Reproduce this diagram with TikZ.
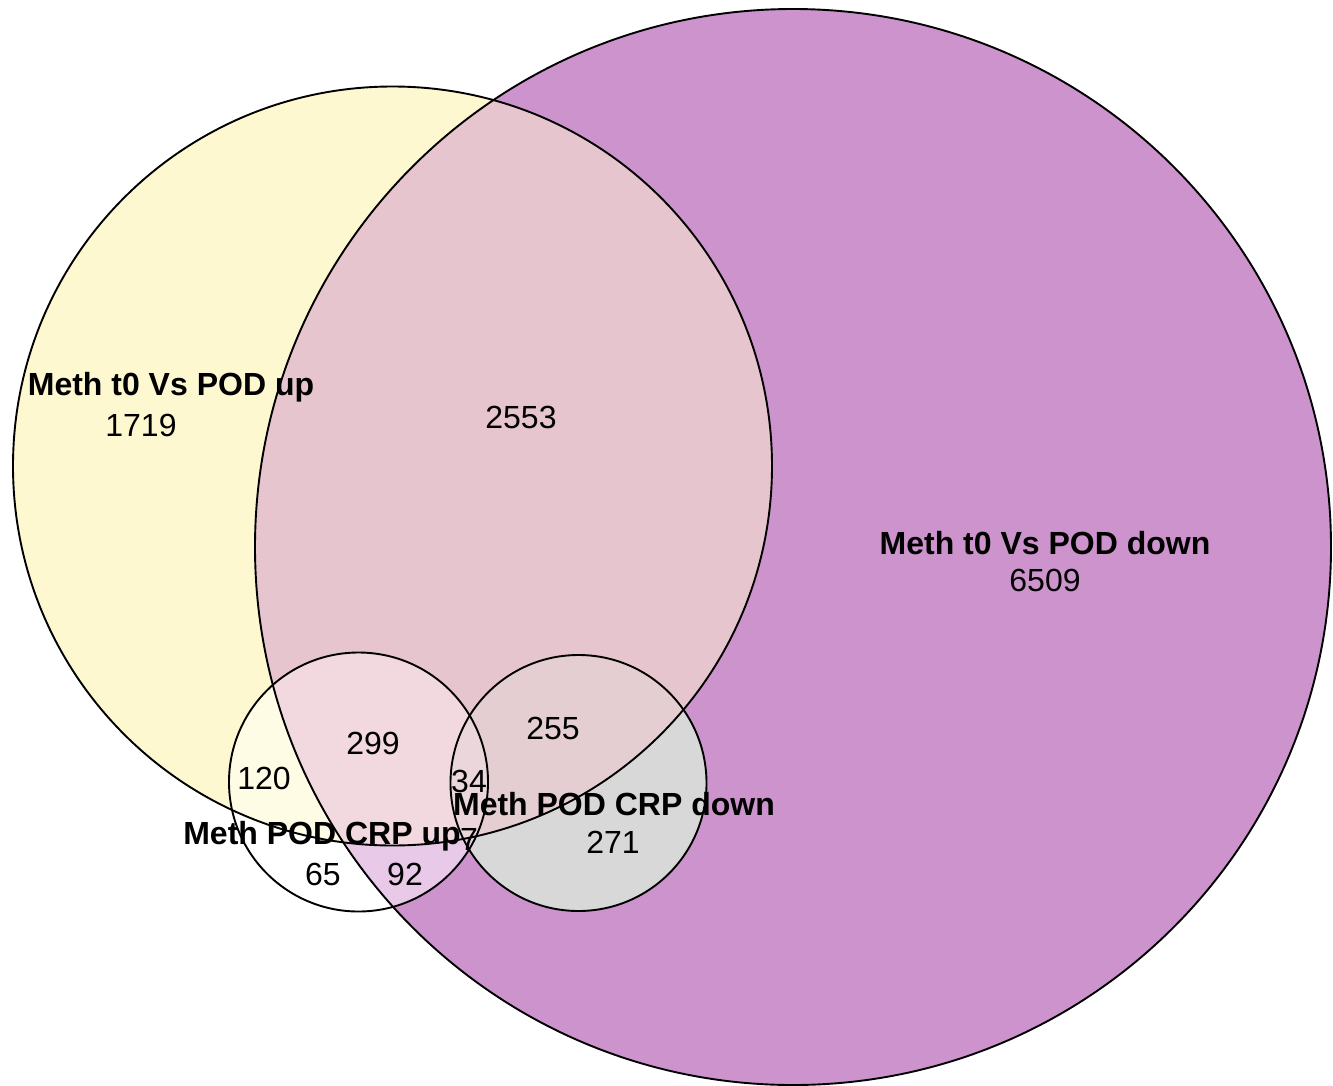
\documentclass[tikz,border=0pt]{standalone}
\usepackage{fontspec}
\setmainfont{Liberation Sans}
\usetikzlibrary{positioning}

\definecolor{upcol}{HTML}{FDF8D0}
\definecolor{downcol}{HTML}{CC93CC}
\definecolor{bothcol}{HTML}{E6C5CE}
\definecolor{crpupA}{HTML}{FFFCE6}
\definecolor{crpupB}{HTML}{E8C9E8}
\definecolor{crpupAB}{HTML}{F1D9DF}
\definecolor{crpdownB}{HTML}{D8D8D8}
\definecolor{crpdownAB}{HTML}{E4CED2}
\definecolor{crpbothAB}{HTML}{EAD6DB}
\definecolor{crpbothB}{HTML}{E2D2E2}

%% the four sets, in pixel units
\newcommand{\setUp}{(392.5,466) circle[radius=379.5]}
\newcommand{\setDown}{(793,547) circle[radius=538]}
\newcommand{\setCrpUp}{(358.5,782) circle[radius=129.5]}
\newcommand{\setCrpDown}{(578.5,783) circle[radius=128]}

\begin{document}
\begin{tikzpicture}[x=1pt,y=-1pt,
    setname/.style={font=\fontsize{32}{37}\selectfont\bfseries, inner sep=0pt},
    setsize/.style={font=\fontsize{32}{37}\selectfont, inner sep=0pt},
    outline/.style={draw=black, line width=1.9pt}]
    \useasboundingbox (0,0) rectangle (1333,1085);

    %% fills
    \fill[upcol] \setUp;
    \fill[downcol] \setDown;
    \begin{scope}
        \clip \setUp;
        \fill[bothcol] \setDown;
    \end{scope}
    \fill[white] \setCrpUp;
    \begin{scope}
        \clip \setCrpUp;
        \fill[crpupA] \setUp;
        \fill[crpupB] \setDown;
        \clip \setUp;
        \fill[crpupAB] \setDown;
    \end{scope}
    \fill[crpdownB] \setCrpDown;
    \begin{scope}
        \clip \setCrpDown;
        \fill[crpdownAB] \setUp;
        \clip \setCrpUp;
        \fill[crpbothB] \setDown;
        \clip \setUp;
        \fill[crpbothAB] \setDown;
    \end{scope}

    %% outlines
    \draw[outline] \setUp;
    \draw[outline] \setDown;
    \draw[outline] \setCrpUp;
    \draw[outline] \setCrpDown;

    %% labels
    \node[setname] (nameUp) at (171,387) {Meth t0 Vs POD up};
    \node[setsize] (nUp) at (141,425) {1719};
    \node[setsize] (nUpDown) at (521,417) {2553};
    \node[setname] (nameDown) at (1045,543) {Meth t0 Vs POD down};
    \node[setsize] (nDown) at (1045,580) {6509};
    \node[setsize] (nUpDownCu) at (373,743) {299};
    \node[setsize] (nUpCu) at (264,778) {120};
    \node[setsize] (nUpDownCd) at (553,728) {255};
    \node[setsize] (nAll) at (469,781) {34};
    \node[setname] (nameCrpDown) at (614,804) {Meth POD CRP down};
    \node[setsize] (nDownCd) at (613,842) {271};
    \node[setname] (nameCrpUp) at (322,836) {Meth POD CRP up};
    \node[setsize] (nDownCuCd) at (469,839) {7};
    \node[setsize] (nCu) at (323,874) {65};
    \node[setsize] (nDownCu) at (405,874) {92};
\end{tikzpicture}
\end{document}
